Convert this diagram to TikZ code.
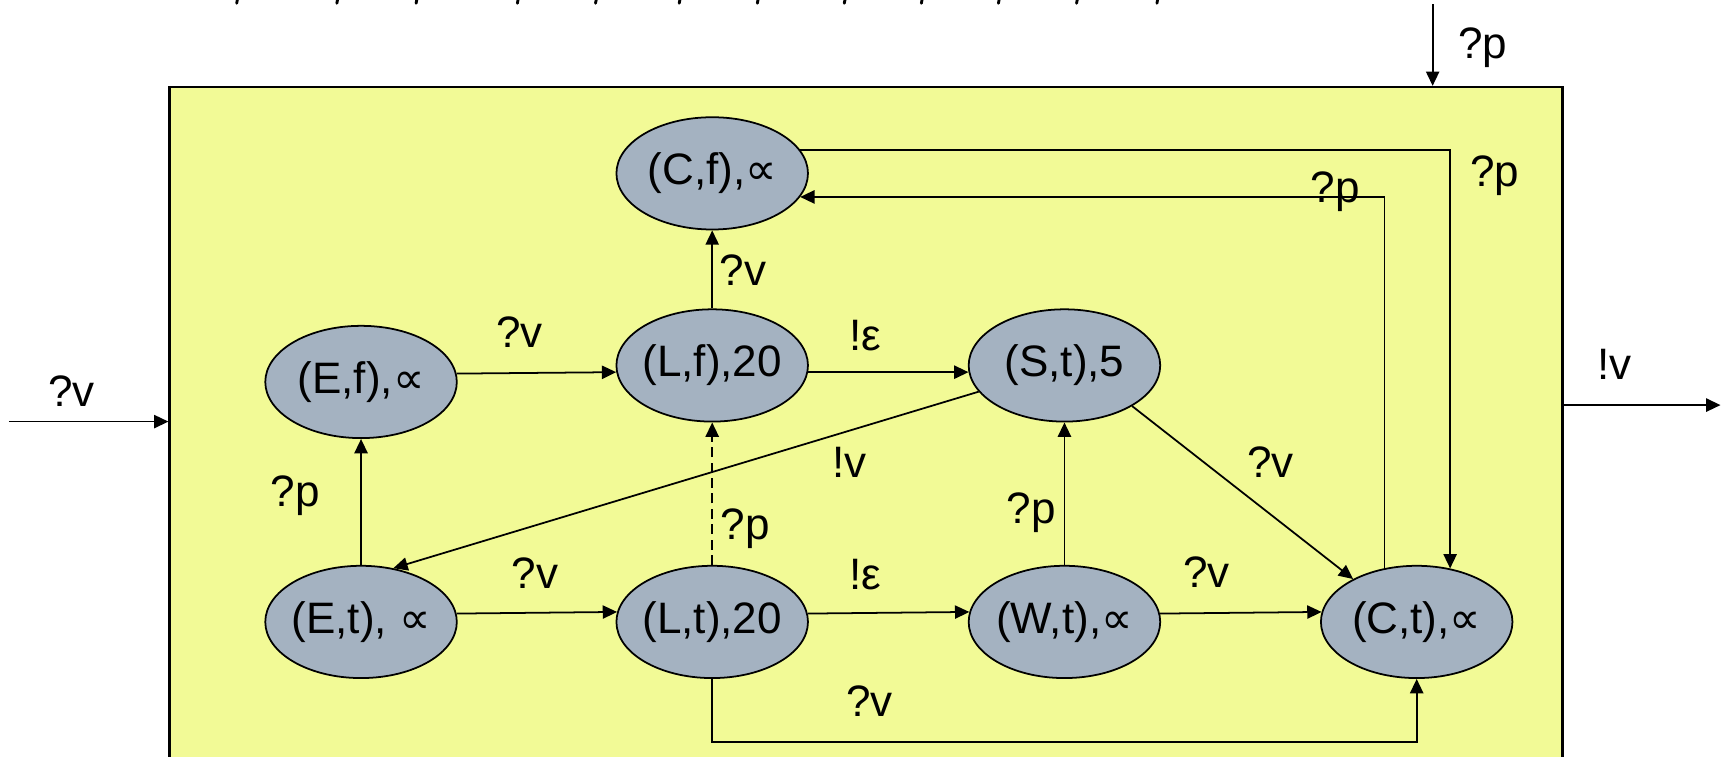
\documentclass[tikz,border=0pt]{standalone}
\usepackage{fontspec}
\setmainfont{Liberation Sans}
\newfontfamily\symfam{DejaVu Sans}
\usetikzlibrary{arrows.meta,shapes.geometric}
\definecolor{boxyellow}{RGB}{242,250,150}
\definecolor{stategray}{RGB}{164,178,193}
\newcommand{\propsym}{{\symfam\fontsize{40}{48}\selectfont ∝}}
\begin{document}
\begin{tikzpicture}[x=1pt,y=-1pt,
  state/.style={ellipse, draw=black, line width=1.6pt, fill=stategray,
    minimum width=174pt, minimum height=102pt, inner sep=-8pt,
    font=\fontsize{40}{48}\selectfont},
  lbl/.style={inner sep=0pt, font=\fontsize{40}{48}\selectfont},
  fragmark/.style={line width=2.6pt, line cap=round},
  arr/.style={line width=1.6pt, -{Triangle[length=13pt,width=12pt]}},
  dasharr/.style={arr, dash pattern=on 9pt off 5pt},
  sysbox/.style={draw=black, line width=2.4pt, fill=boxyellow}]
\useasboundingbox (0,0) rectangle (1568,687);
% system box (its bottom lies below the picture)
\node[sysbox, anchor=north west, minimum width=1265pt, minimum height=640pt, inner sep=0pt] (box) at (153,78) {};
% remains of a cut-off line at the top edge
\foreach \xx in {216,307,379,471,542,618,689,768,838,908,979,1052}
  \draw[fragmark] (\xx,-2) -- (\xx-1,3);
% states
\node[state] (Cf) at (647,157.5) {(C,f),\propsym};
\node[state] (Ef) at (328,347) {(E,f),\propsym};
\node[state] (Lf) at (647,332) {(L,f),20};
\node[state] (St) at (967,332) {(S,t),5};
\node[state] (Et) at (328,565) {(E,t), \propsym};
\node[state] (Lt) at (647,565) {(L,t),20};
\node[state] (Wt) at (967,565) {(W,t),\propsym};
\node[state] (Ct) at (1287,565) {(C,t),\propsym};
% external connectors
\coordinate (inS) at (8,383);
\coordinate (outE) at (1563,368);
\coordinate (pS) at (1301.5,4);
\draw[arr] (inS) -- (inS -| box.west);
\draw[arr] (outE -| box.east) -- (outE);
\draw[arr] (pS) -- (pS |- box.north);
% internal connectors
\draw[arr] (Cf.15.7) -| (Ct.58.9);
\draw[arr] (Ct.121.1) |- (Cf.-15.7);
\draw[arr] (Lf) -- (Cf);
\draw[arr] (Ef.5.3) -- (Lf.184.6);
\draw[arr] (Lf.-4.6) -- (St.184.6);
\draw[arr] (St.197) -- (Et.59);
\draw[arr] (St.-31.4) -- (Ct.146.8);
\draw[arr] (Et) -- (Ef);
\draw[dasharr] (Lt) -- (Lf);
\draw[arr] (Et.5.3) -- (Lt.174.7);
\draw[arr] (Lt.5.3) -- (Wt.174.7);
\draw[arr] (Wt.5.3) -- (Ct.174.7);
\draw[arr] (Wt) -- (St);
\coordinate (bot) at (647,674);
\draw[arr] (Lt.south) -- (bot) -| (Ct.south);
% labels
\node[lbl] (l1) at (65,355) {?v};
\node[lbl] (l2) at (1467,331) {!v};
\node[lbl] (l3) at (1347,43) {?p};
\node[lbl] (l4) at (675,245) {?v};
\node[lbl] (l5) at (472,302) {?v};
\node[lbl] (l6) at (786,305) {!ε};
\node[lbl] (l7) at (772,420) {!v};
\node[lbl] (l8) at (1154,420) {?v};
\node[lbl] (l9) at (268,450) {?p};
\node[lbl] (l10) at (677,480) {?p};
\node[lbl] (l11) at (486,521) {?v};
\node[lbl] (l12) at (786,522) {!ε};
\node[lbl] (l13) at (937,466) {?p};
\node[lbl] (l14) at (1096,520) {?v};
\node[lbl] (l15) at (790,637) {?v};
\node[lbl] (l16) at (1358,160) {?p};
\node[lbl] (l17) at (1213,174) {?p};
\end{tikzpicture}
\end{document}
